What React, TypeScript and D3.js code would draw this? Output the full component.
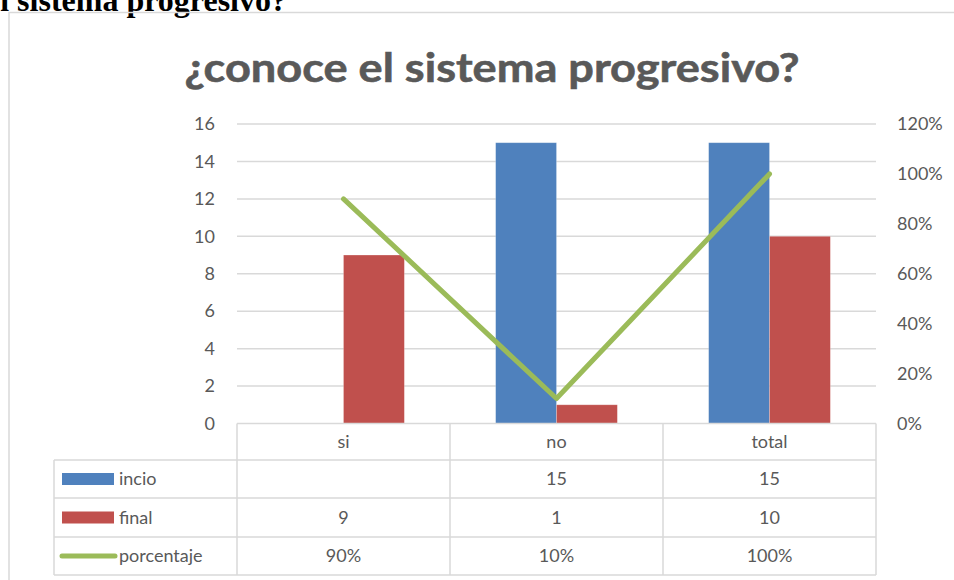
import React from "react";
import * as d3 from "d3";

const categories = ["si", "no", "total"];
const incio: (number | null)[] = [null, 15, 15];
const finalVals = [9, 1, 10];
const porcentaje = [0.9, 0.1, 1.0];
const leftTicks = [0, 2, 4, 6, 8, 10, 12, 14, 16];
const rightTicks = [0, 0.2, 0.4, 0.6, 0.8, 1.0, 1.2];
const seriesNames = ["incio", "final", "porcentaje"];

const W = 954;
const H = 580;
const FONT = "Lato, 'Open Sans', sans-serif";
const GRAY = "#595959";
const GRID = "#d9d9d9";
const BLUE = "#4F81BD";
const RED = "#C0504D";
const GREEN = "#9BBB59";
const FS = 18;

export default function App() {
  const x0 = 237, x1 = 876;
  const yTop = 124, yBot = 423.5;
  const x = d3.scaleBand<string>().domain(categories).range([x0, x1]).paddingInner(0).paddingOuter(0);
  const yL = d3.scaleLinear().domain([0, 16]).range([yBot, yTop]);
  const yR = d3.scaleLinear().domain([0, 1.2]).range([yBot, yTop]);
  const bw = x.bandwidth() / 3.5;
  const cx = (c: string) => (x(c) as number) + x.bandwidth() / 2;
  const fmtPct = d3.format(".0%");

  const line = d3
    .line<number>()
    .x((_, i) => cx(categories[i]))
    .y((d) => yR(d));

  const rowsY = [423.5, 460, 498, 537, 575];
  const legX0 = 54;
  const colEdges = [x0, ...categories.map((c) => (x(c) as number) + x.bandwidth())];

  const tableVals: string[][] = [
    incio.map((v) => (v == null ? "" : String(v))),
    finalVals.map((v) => String(v)),
    porcentaje.map((v) => fmtPct(v)),
  ];

  return (
    <svg width={W} height={H} style={{ position: "absolute", left: 0, top: 0, background: "#fff" }}>
      <rect x={0} y={0} width={W} height={H} fill="#fff" />
      <text x={287} y={11} textAnchor="end" fontFamily="'Liberation Serif', 'Times New Roman', serif" fontWeight="bold" fontSize={32} fill="#000">
        el sistema progresivo?
      </text>
      <rect x={9} y={12.5} width={W + 10} height={H + 10} fill="none" stroke={GRID} strokeWidth={1.5} />
      <text x={492} y={82} textAnchor="middle" fontFamily={FONT} fontWeight="bold" fontSize={40} fill={GRAY} stroke={GRAY} strokeWidth={0.6} textLength={615} lengthAdjust="spacingAndGlyphs">
        ¿conoce el sistema progresivo?
      </text>

      {leftTicks.map((t) => (
        <g key={"l" + t}>
          {t > 0 && <line x1={x0} x2={x1} y1={yL(t)} y2={yL(t)} stroke={GRID} strokeWidth={1.5} />}
          <text x={215} y={yL(t)} dy="0.35em" textAnchor="end" fontFamily={FONT} fontSize={FS} fill={GRAY}>
            {t}
          </text>
        </g>
      ))}
      {rightTicks.map((t) => (
        <text key={"r" + t} x={897} y={yR(t)} dy="0.35em" textAnchor="start" fontFamily={FONT} fontSize={FS} fill={GRAY}>
          {fmtPct(t)}
        </text>
      ))}

      {categories.map((c, i) => (
        <g key={c}>
          {incio[i] != null && (
            <rect x={cx(c) - bw} y={yL(incio[i] as number)} width={bw} height={yBot - yL(incio[i] as number)} fill={BLUE} stroke="#fff" strokeOpacity={0.3} strokeWidth={0.75} />
          )}
          <rect x={cx(c)} y={yL(finalVals[i])} width={bw} height={yBot - yL(finalVals[i])} fill={RED} stroke="#fff" strokeOpacity={0.3} strokeWidth={0.75} />
        </g>
      ))}

      <path d={line(porcentaje) || ""} fill="none" stroke={GREEN} strokeWidth={5} strokeLinejoin="round" strokeLinecap="round" />

      {/* data table */}
      <g stroke={GRID} strokeWidth={1.5} fill="none">
        <line x1={x0} x2={x1} y1={rowsY[0]} y2={rowsY[0]} />
        {rowsY.slice(1).map((ry) => (
          <line key={ry} x1={legX0} x2={x1} y1={ry} y2={ry} />
        ))}
        <line x1={legX0} x2={legX0} y1={rowsY[1]} y2={rowsY[4]} />
        {colEdges.map((ex) => (
          <line key={ex} x1={ex} x2={ex} y1={rowsY[0]} y2={rowsY[4]} />
        ))}
      </g>
      {categories.map((c) => (
        <text key={"c" + c} x={cx(c)} y={(rowsY[0] + rowsY[1]) / 2} dy="0.35em" textAnchor="middle" fontFamily={FONT} fontSize={FS} fill={GRAY}>
          {c}
        </text>
      ))}
      {tableVals.map((row, r) =>
        row.map((v, i) => (
          <text key={r + "-" + i} x={cx(categories[i])} y={(rowsY[r + 1] + rowsY[r + 2]) / 2} dy="0.35em" textAnchor="middle" fontFamily={FONT} fontSize={FS} fill={GRAY}>
            {v}
          </text>
        ))
      )}
      {seriesNames.map((s, r) => {
        const my = (rowsY[r + 1] + rowsY[r + 2]) / 2;
        return (
          <g key={s}>
            {r < 2 ? (
              <rect x={62} y={my - 6} width={52} height={12} fill={r === 0 ? BLUE : RED} />
            ) : (
              <line x1={62} x2={115} y1={my} y2={my} stroke={GREEN} strokeWidth={5} strokeLinecap="round" />
            )}
            <text x={119} y={my} dy="0.35em" fontFamily={FONT} fontSize={FS} fill={GRAY}>
              {s}
            </text>
          </g>
        );
      })}
    </svg>
  );
}
